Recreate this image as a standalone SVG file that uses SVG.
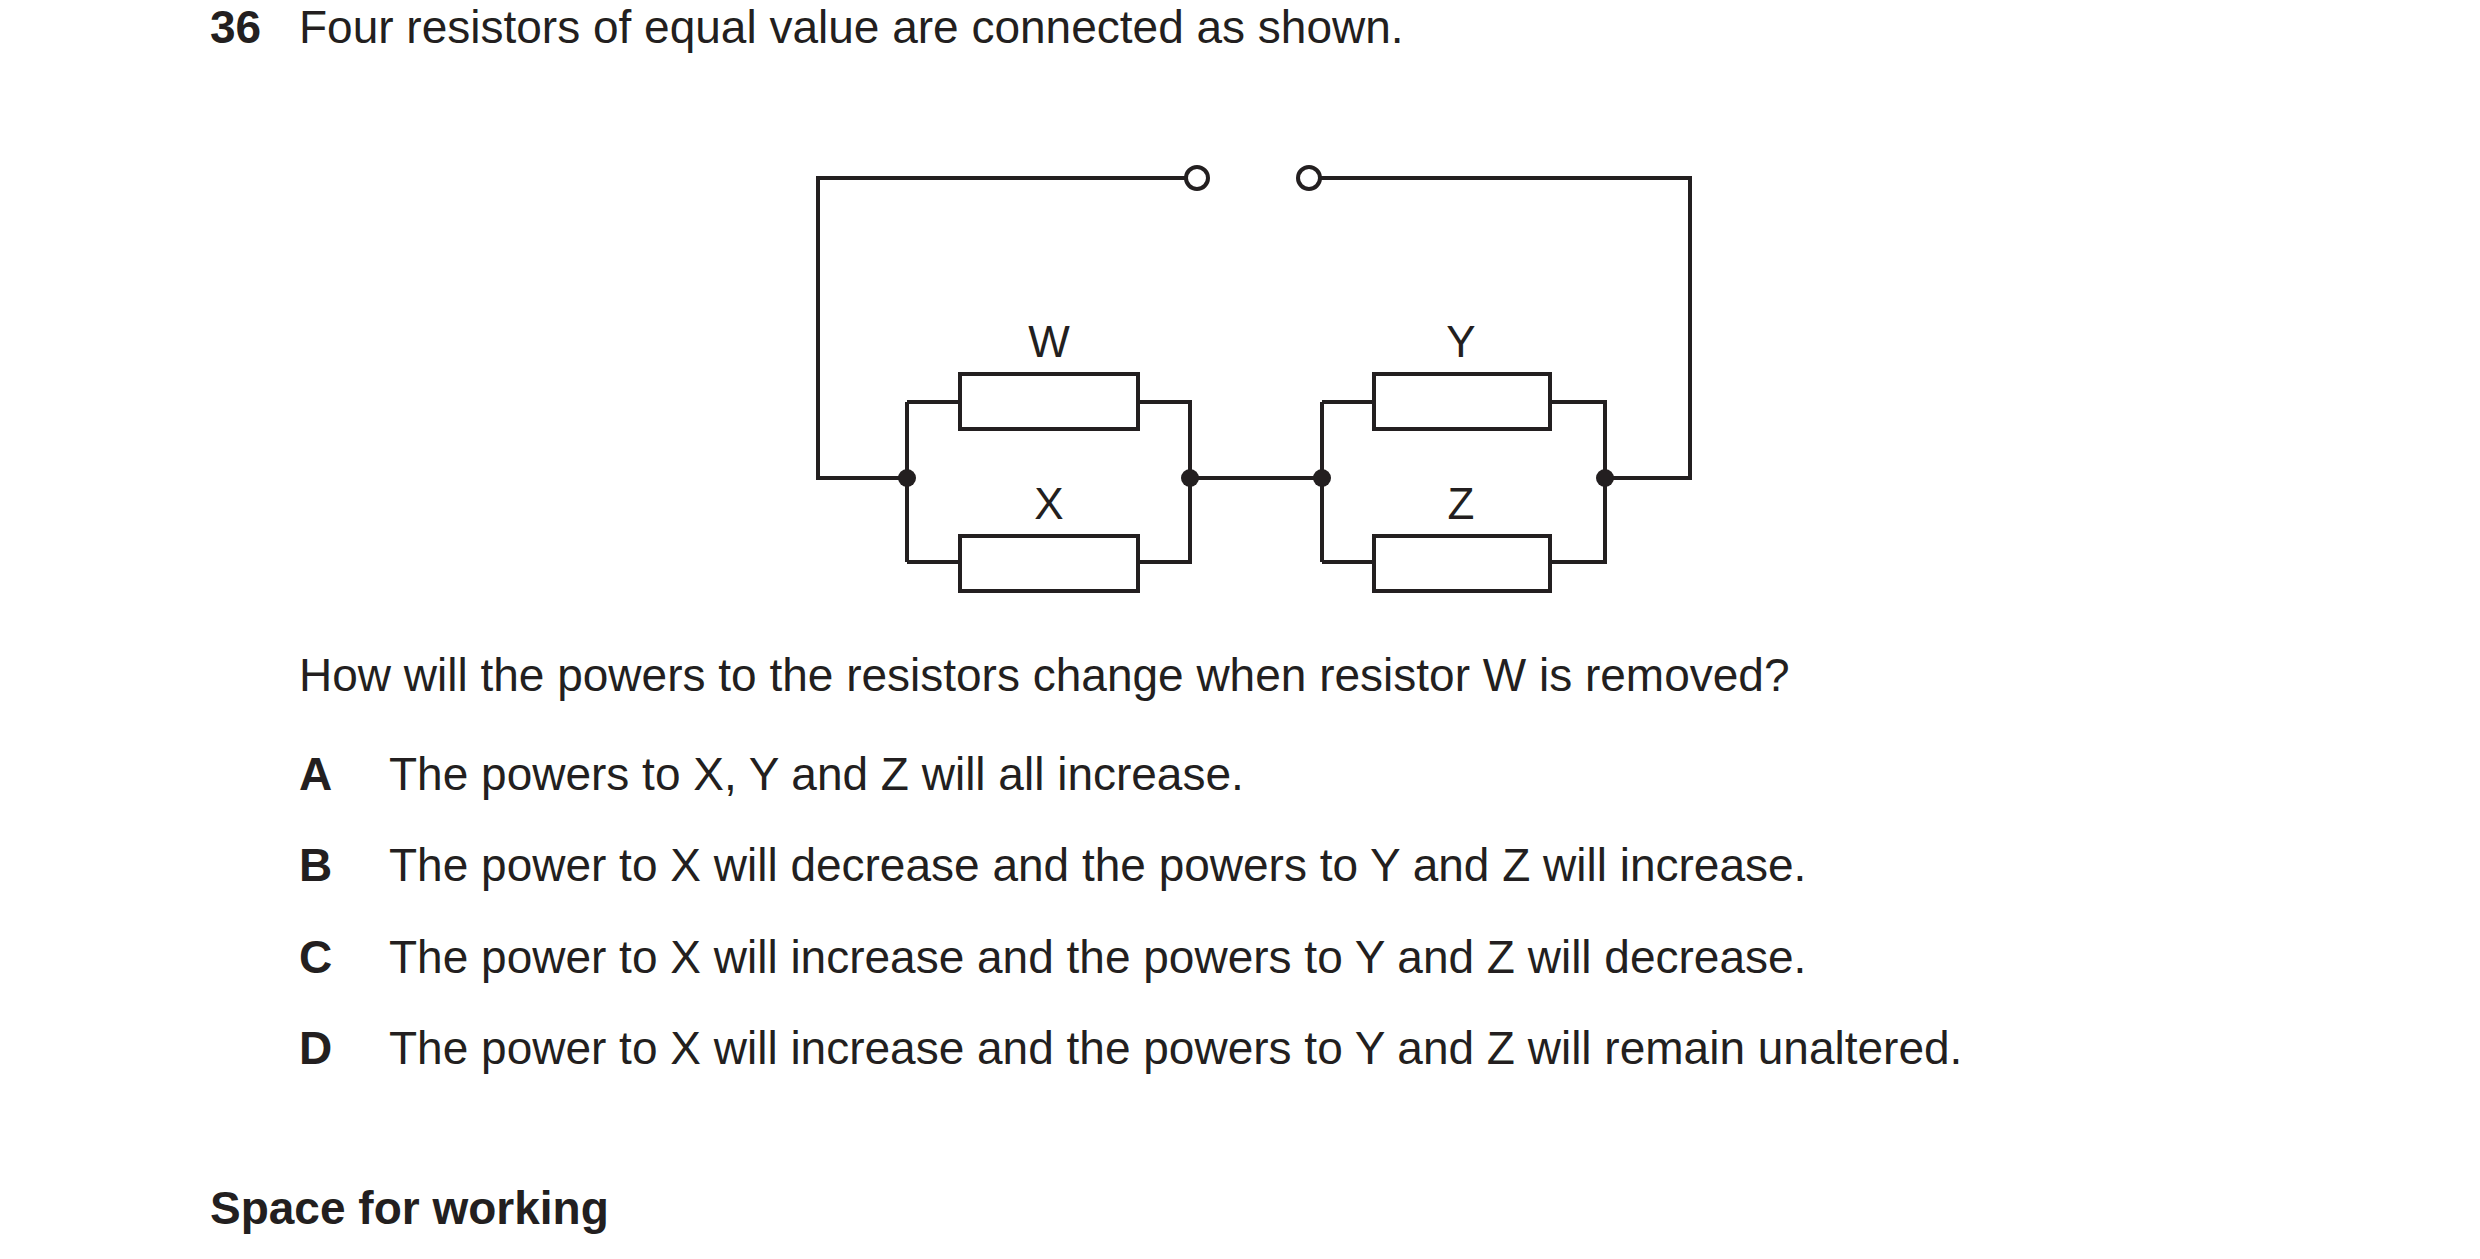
<svg xmlns="http://www.w3.org/2000/svg" width="2480" height="1259" viewBox="0 0 2480 1259">
<style>
text{font-family:"Liberation Sans",Arial,sans-serif;fill:#231f20}
.t{font-size:46px}
.b{font-weight:bold}
.l{font-size:44px;text-anchor:middle}
.w{fill:none;stroke:#231f20;stroke-width:4}
.r{fill:#fff;stroke:#231f20;stroke-width:4}
.d{fill:#231f20}
</style>
<rect width="2480" height="1259" fill="#fff"/>
<text x="210" y="43" class="t b">36</text>
<text x="299" y="43" class="t">Four resistors of equal value are connected as shown.</text>
<g id="connectors">
<path class="w" d="M1186 178H818V478H907M907 402V562M907 402H960M907 562H960M1138 402H1190V562H1138M1190 478H1322M1322 402V562M1322 402H1374M1322 562H1374M1550 402H1605V562H1550M1605 478H1690V178H1320"/>
</g>
<g id="terminals"><circle class="r" cx="1197" cy="178" r="11"/><circle class="r" cx="1309" cy="178" r="11"/></g>
<g id="junctions"><circle class="d" cx="907" cy="478" r="9"/><circle class="d" cx="1190" cy="478" r="9"/><circle class="d" cx="1322" cy="478" r="9"/><circle class="d" cx="1605" cy="478" r="9"/></g>
<g id="W"><rect class="r" x="960" y="374" width="178" height="55"/><text class="l" x="1049" y="357">W</text></g>
<g id="X"><rect class="r" x="960" y="536" width="178" height="55"/><text class="l" x="1049" y="519">X</text></g>
<g id="Y"><rect class="r" x="1374" y="374" width="176" height="55"/><text class="l" x="1461" y="357">Y</text></g>
<g id="Z"><rect class="r" x="1374" y="536" width="176" height="55"/><text class="l" x="1461" y="519">Z</text></g>
<text x="299" y="691" class="t">How will the powers to the resistors change when resistor W is removed?</text>
<text x="299" y="790" class="t b">A</text><text x="389" y="790" class="t">The powers to X, Y and Z will all increase.</text>
<text x="299" y="881" class="t b">B</text><text x="389" y="881" class="t">The power to X will decrease and the powers to Y and Z will increase.</text>
<text x="299" y="973" class="t b">C</text><text x="389" y="973" class="t">The power to X will increase and the powers to Y and Z will decrease.</text>
<text x="299" y="1064" class="t b">D</text><text x="389" y="1064" class="t">The power to X will increase and the powers to Y and Z will remain unaltered.</text>
<text x="210" y="1224" class="t b">Space for working</text>
</svg>
